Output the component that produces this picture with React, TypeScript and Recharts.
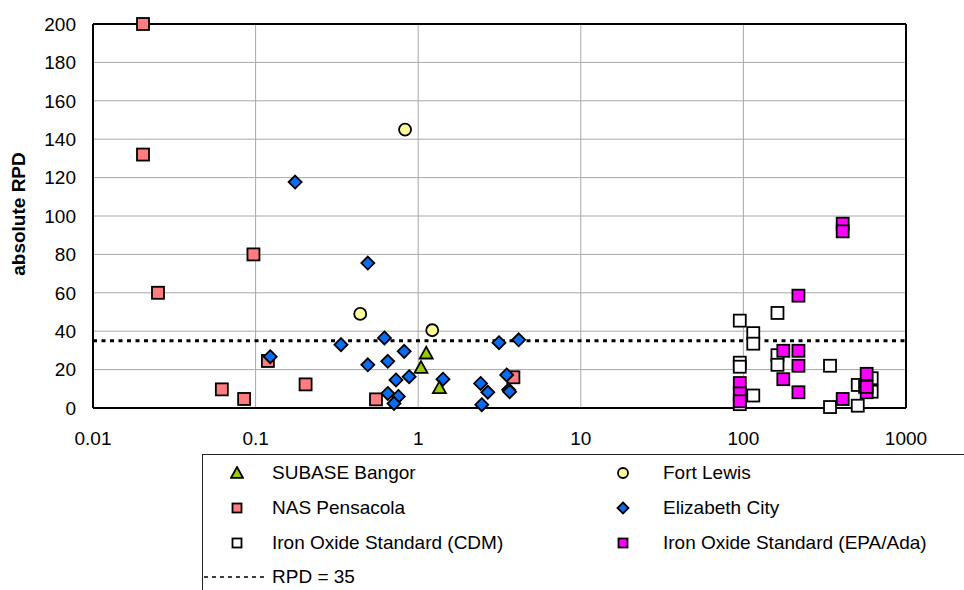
import React from 'react';
import {
  ScatterChart,
  Scatter,
  XAxis,
  YAxis,
  CartesianGrid,
  ReferenceLine,
} from 'recharts';

// values (x: log scale, y: absolute RPD)
const subaseBangor = [
  { x: 1.12, y: 28.5 },
  { x: 1.04, y: 21 },
  { x: 1.35, y: 10.5 },
];

const fortLewis = [
  { x: 0.83, y: 145 },
  { x: 0.44, y: 49 },
  { x: 1.22, y: 40.5 },
];

const nasPensacola = [
  { x: 0.0203, y: 200 },
  { x: 0.0203, y: 132 },
  { x: 0.0251, y: 60 },
  { x: 0.097, y: 80 },
  { x: 0.062, y: 9.7 },
  { x: 0.085, y: 4.7 },
  { x: 0.119, y: 24.5 },
  { x: 0.203, y: 12.3 },
  { x: 0.55, y: 4.5 },
  { x: 3.85, y: 16 },
];

const elizabethCity = [
  { x: 0.175, y: 117.7 },
  { x: 0.123, y: 26.7 },
  { x: 0.49, y: 75.5 },
  { x: 0.335, y: 33 },
  { x: 0.62, y: 36.5 },
  { x: 0.49, y: 22.5 },
  { x: 0.65, y: 24.3 },
  { x: 0.82, y: 29.5 },
  { x: 0.73, y: 14.6 },
  { x: 0.88, y: 16.3 },
  { x: 0.65, y: 7.6 },
  { x: 0.755, y: 6 },
  { x: 0.71, y: 2.4 },
  { x: 1.42, y: 15 },
  { x: 2.42, y: 12.8 },
  { x: 2.68, y: 8.2 },
  { x: 2.46, y: 1.7 },
  { x: 3.14, y: 34 },
  { x: 4.15, y: 35.5 },
  { x: 3.5, y: 17.2 },
  { x: 3.6, y: 9.5 },
  { x: 3.65, y: 8.5 },
];

const ironOxideCDM = [
  { x: 95, y: 45.5 },
  { x: 115, y: 39 },
  { x: 115, y: 33.5 },
  { x: 162, y: 49.5 },
  { x: 95, y: 23.6 },
  { x: 95, y: 21.5 },
  { x: 115, y: 6.5 },
  { x: 162, y: 27.5 },
  { x: 162, y: 22.5 },
  { x: 341, y: 22 },
  { x: 341, y: 0.5 },
  { x: 505, y: 1.2 },
  { x: 505, y: 12 },
  { x: 615, y: 15.5 },
  { x: 615, y: 8.5 },
  { x: 560, y: 11 },
  { x: 95, y: 2 },
];

const ironOxideEPA = [
  { x: 408, y: 96 },
  { x: 408, y: 92 },
  { x: 218, y: 58.5 },
  { x: 176, y: 29.8 },
  { x: 218, y: 29.8 },
  { x: 218, y: 22 },
  { x: 176, y: 15 },
  { x: 218, y: 8.2 },
  { x: 95, y: 13 },
  { x: 95, y: 7.6 },
  { x: 95, y: 3.5 },
  { x: 408, y: 4.7 },
  { x: 573, y: 17.8 },
  { x: 573, y: 8.2 },
  { x: 573, y: 11 },
];

const xTicks = [0.01, 0.1, 1, 10, 100, 1000];
const yTicks = [0, 20, 40, 60, 80, 100, 120, 140, 160, 180, 200];
const rpdLimit = 35;

const FONT = '"Liberation Sans", Arial, sans-serif';

const COLORS = {
  subase: '#99CC00',
  fort: '#FFFF99',
  nas: '#FF7C80',
  eliz: '#0A6CF0',
  cdm: '#FFFFFF',
  epa: '#FF00FF',
};

const SW = 1.8;

const square = (fill: string, s = 6) => (p: any) => (
  <rect x={p.cx - s} y={p.cy - s} width={s * 2} height={s * 2} fill={fill} stroke="#000" strokeWidth={SW} />
);

const diamond = (fill: string, s = 6.5) => (p: any) => (
  <polygon
    points={`${p.cx},${p.cy - s} ${p.cx + s},${p.cy} ${p.cx},${p.cy + s} ${p.cx - s},${p.cy}`}
    fill={fill}
    stroke="#000"
    strokeWidth={SW}
  />
);

const circle = (fill: string, r = 6) => (p: any) => (
  <circle cx={p.cx} cy={p.cy} r={r} fill={fill} stroke="#000" strokeWidth={SW} />
);

const triangle = (fill: string, s = 6.5) => (p: any) => (
  <polygon
    points={`${p.cx},${p.cy - s} ${p.cx + s},${p.cy + s * 0.8} ${p.cx - s},${p.cy + s * 0.8}`}
    fill={fill}
    stroke="#000"
    strokeWidth={SW}
  />
);

const LegendIcon = ({ kind, fill }: { kind: string; fill: string }) => {
  const p = { cx: 7, cy: 7 };
  let el: React.ReactNode = null;
  if (kind === 'square') el = square(fill, 4.5)(p);
  if (kind === 'diamond') el = diamond(fill, 5.5)(p);
  if (kind === 'circle') el = circle(fill, 5)(p);
  if (kind === 'triangle') el = triangle(fill, 6)(p);
  return (
    <svg width={14} height={14} style={{ display: 'block' }}>
      {el}
    </svg>
  );
};

const legendItems = [
  { name: 'SUBASE Bangor', kind: 'triangle', fill: COLORS.subase, col: 0, row: 0 },
  { name: 'NAS Pensacola', kind: 'square', fill: COLORS.nas, col: 0, row: 1 },
  { name: 'Iron Oxide Standard (CDM)', kind: 'square', fill: COLORS.cdm, col: 0, row: 2 },
  { name: 'Fort Lewis', kind: 'circle', fill: COLORS.fort, col: 1, row: 0 },
  { name: 'Elizabeth City', kind: 'diamond', fill: COLORS.eliz, col: 1, row: 1 },
  { name: 'Iron Oxide Standard (EPA/Ada)', kind: 'square', fill: COLORS.epa, col: 1, row: 2 },
];

const tickStyle = { fill: '#000', fontSize: 19, fontFamily: FONT };

const App = () => {
  const rowY = [473, 508, 543, 577];
  const markerX = [237, 623];
  const textX = [272, 663];

  return (
    <div style={{ position: 'absolute', left: 0, top: 0, width: 964, height: 590, background: '#fff', fontFamily: FONT, overflow: 'hidden' }}>
      <ScatterChart width={964} height={590} margin={{ top: 24, right: 58, bottom: 152, left: 33 }}>
        <CartesianGrid stroke="#a8a8a8" strokeWidth={1} />
        <XAxis
          type="number"
          dataKey="x"
          scale="log"
          domain={[0.01, 1000]}
          ticks={xTicks}
          height={30}
          tickFormatter={(v: number) => String(v)}
          axisLine={{ stroke: '#000', strokeWidth: 2 }}
          tickLine={false}
          tickSize={0}
          tickMargin={24}
          fontSize={19}
          tick={tickStyle}
          interval={0}
        />
        <YAxis
          type="number"
          dataKey="y"
          domain={[0, 200]}
          ticks={yTicks}
          width={60}
          axisLine={{ stroke: '#000', strokeWidth: 2 }}
          tickLine={false}
          tickSize={0}
          tickMargin={17}
          fontSize={19}
          tick={tickStyle}
          interval={0}
        />
        <ReferenceLine y={200} stroke="#000" strokeWidth={2} />
        <ReferenceLine x={1000} stroke="#000" strokeWidth={2} />
        <ReferenceLine y={rpdLimit} stroke="#000" strokeWidth={3} strokeDasharray="4 4.5" />
        <Scatter data={nasPensacola} shape={square(COLORS.nas)} isAnimationActive={false} />
        <Scatter data={elizabethCity} shape={diamond(COLORS.eliz)} isAnimationActive={false} />
        <Scatter data={subaseBangor} shape={triangle(COLORS.subase)} isAnimationActive={false} />
        <Scatter data={fortLewis} shape={circle(COLORS.fort)} isAnimationActive={false} />
        <Scatter data={ironOxideCDM} shape={square(COLORS.cdm)} isAnimationActive={false} />
        <Scatter data={ironOxideEPA} shape={square(COLORS.epa)} isAnimationActive={false} />
      </ScatterChart>

      <div
        style={{
          position: 'absolute',
          left: 19,
          top: 214,
          transform: 'translate(-50%, -50%) rotate(-90deg)',
          fontWeight: 'bold',
          fontSize: 19,
          lineHeight: '22px',
          whiteSpace: 'nowrap',
          color: '#000',
        }}
      >
        absolute RPD
      </div>

      <div
        style={{
          position: 'absolute',
          left: 202,
          top: 454,
          width: 800,
          height: 160,
          border: '1px solid #222',
          boxSizing: 'border-box',
        }}
      />
      {legendItems.map((item) => (
        <React.Fragment key={item.name}>
          <div style={{ position: 'absolute', left: markerX[item.col] - 7, top: rowY[item.row] - 7 }}>
            <LegendIcon kind={item.kind} fill={item.fill} />
          </div>
          <div
            style={{
              position: 'absolute',
              left: textX[item.col],
              top: rowY[item.row] - 12,
              fontSize: 19,
              lineHeight: '24px',
              whiteSpace: 'nowrap',
              color: '#000',
            }}
          >
            {item.name}
          </div>
        </React.Fragment>
      ))}
      <svg style={{ position: 'absolute', left: 202, top: rowY[3] - 2 }} width={66} height={4}>
        <line x1={2} y1={2} x2={64} y2={2} stroke="#000" strokeWidth={1.5} strokeDasharray="4 4" />
      </svg>
      <div
        style={{
          position: 'absolute',
          left: textX[0],
          top: rowY[3] - 12,
          fontSize: 19,
          lineHeight: '24px',
          whiteSpace: 'nowrap',
          color: '#000',
        }}
      >
        RPD = 35
      </div>
    </div>
  );
};

export default App;
